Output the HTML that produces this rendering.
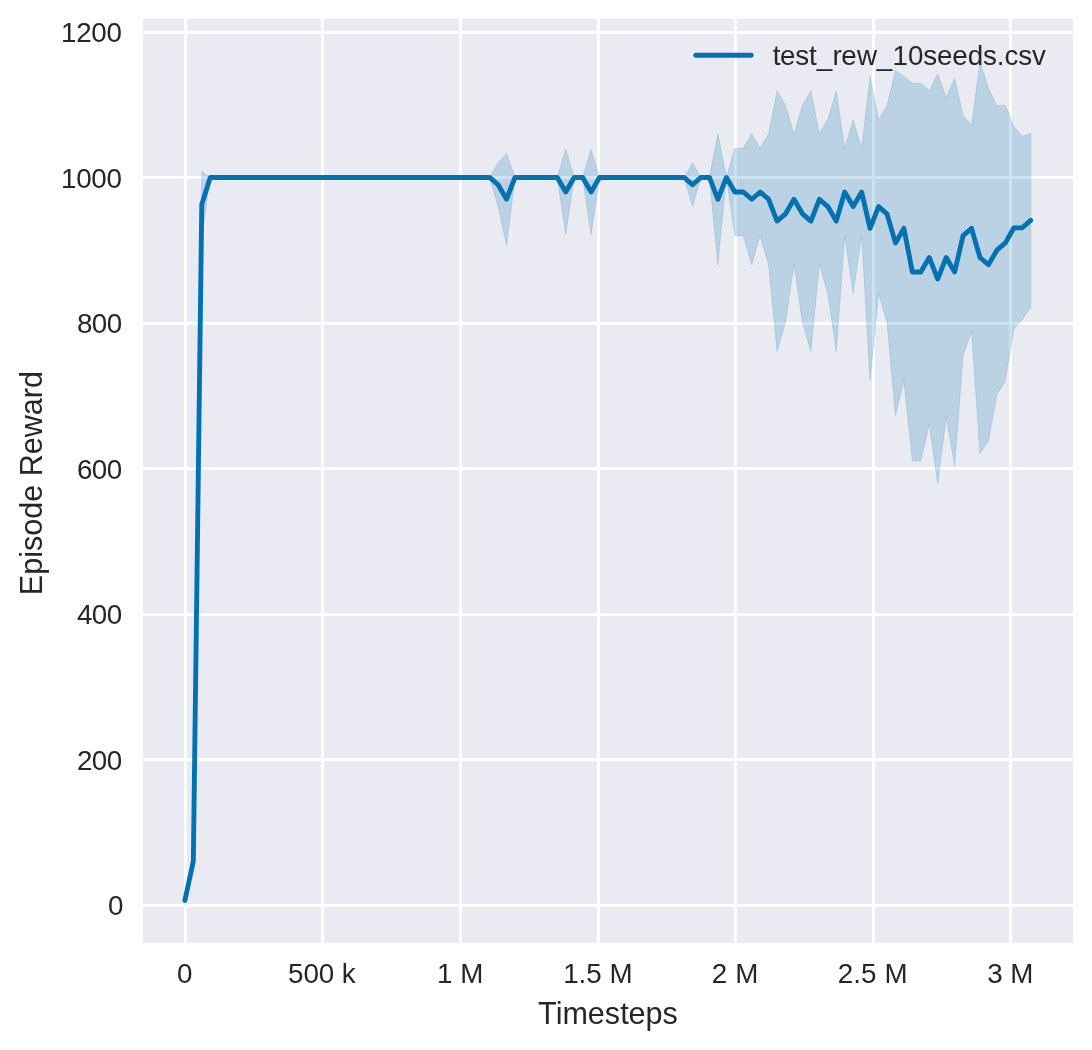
<!DOCTYPE html>
<html><head><meta charset="utf-8"><title>Episode Reward</title>
<style>html,body{margin:0;padding:0;background:#fff;overflow:hidden}svg{display:block;will-change:transform}text{font-family:"Liberation Sans",sans-serif;fill:#262626}</style></head><body>
<svg width="1092" height="1050" viewBox="0 0 1092 1050">
<rect x="0" y="0" width="1092" height="1050" fill="#ffffff"/>
<rect x="143.00" y="19.00" width="930.00" height="924.00" fill="#eaeaf2"/>
<g stroke="#ffffff" stroke-width="2.78" stroke-linecap="butt">
<line x1="185.50" y1="19.00" x2="185.50" y2="943.00"/>
<line x1="322.50" y1="19.00" x2="322.50" y2="943.00"/>
<line x1="460.50" y1="19.00" x2="460.50" y2="943.00"/>
<line x1="598.50" y1="19.00" x2="598.50" y2="943.00"/>
<line x1="735.50" y1="19.00" x2="735.50" y2="943.00"/>
<line x1="873.50" y1="19.00" x2="873.50" y2="943.00"/>
<line x1="1010.50" y1="19.00" x2="1010.50" y2="943.00"/>
<line x1="143.00" y1="905.50" x2="1073.00" y2="905.50"/>
<line x1="143.00" y1="759.50" x2="1073.00" y2="759.50"/>
<line x1="143.00" y1="614.50" x2="1073.00" y2="614.50"/>
<line x1="143.00" y1="468.50" x2="1073.00" y2="468.50"/>
<line x1="143.00" y1="323.50" x2="1073.00" y2="323.50"/>
<line x1="143.00" y1="177.50" x2="1073.00" y2="177.50"/>
<line x1="143.00" y1="32.50" x2="1073.00" y2="32.50"/>
</g>
<polygon points="184.87,899.86 193.32,855.48 201.78,171.63 210.23,177.45 219.09,177.45 227.54,177.45 236.00,177.45 244.45,177.45 252.91,177.45 261.36,177.45 269.81,177.45 278.27,177.45 286.72,177.45 295.18,177.45 303.63,177.45 312.09,177.45 320.54,177.45 329.00,177.45 337.45,177.45 345.91,177.45 354.36,177.45 362.81,177.45 371.27,177.45 379.72,177.45 388.18,177.45 396.63,177.45 405.09,177.45 413.54,177.45 422.00,177.45 430.45,177.45 438.90,177.45 447.36,177.45 455.81,177.45 464.27,177.45 472.72,177.45 481.18,177.45 489.63,177.45 498.09,162.90 506.54,153.44 515.00,177.45 523.45,177.45 531.90,177.45 540.36,177.45 548.81,177.45 557.27,177.45 565.72,149.44 574.18,177.45 582.63,177.45 591.09,149.44 599.54,177.45 608.00,177.45 616.45,177.45 624.90,177.45 633.36,177.45 641.81,177.45 650.27,177.45 658.72,177.45 667.18,177.45 675.63,177.45 684.09,177.45 692.54,162.90 700.99,177.45 709.45,177.45 717.90,133.80 726.36,177.45 734.81,148.35 743.27,148.35 751.72,133.80 760.18,148.35 768.63,133.80 777.08,90.95 785.54,105.50 793.99,134.24 802.45,105.50 810.90,90.95 819.36,134.24 827.81,119.69 836.27,90.95 844.72,148.35 853.18,119.69 861.63,148.35 870.08,76.40 878.54,119.69 886.99,105.50 895.45,70.58 903.90,76.40 912.36,83.31 920.81,83.31 929.27,90.59 937.72,74.07 946.17,97.86 954.63,78.22 963.08,115.39 971.54,125.51 979.99,61.49 988.45,88.40 996.90,105.86 1005.36,105.14 1013.81,126.52 1022.27,136.20 1030.72,133.36 1030.72,307.38 1022.27,319.39 1013.81,329.35 1005.36,380.71 996.90,394.54 988.45,441.10 979.99,453.46 971.54,331.24 963.08,355.91 954.63,465.83 946.17,417.09 937.72,484.09 929.27,424.36 920.81,460.74 912.36,460.74 903.90,380.35 895.45,415.27 886.99,322.15 878.54,293.41 870.08,380.35 861.63,235.65 853.18,293.41 844.72,235.65 836.27,351.25 827.81,293.41 819.36,264.31 810.90,351.25 802.45,322.15 793.99,264.31 785.54,322.15 777.08,351.25 768.63,264.75 760.18,235.65 751.72,264.75 743.27,235.65 734.81,235.65 726.36,177.45 717.90,264.75 709.45,177.45 700.99,177.45 692.54,206.55 684.09,177.45 675.63,177.45 667.18,177.45 658.72,177.45 650.27,177.45 641.81,177.45 633.36,177.45 624.90,177.45 616.45,177.45 608.00,177.45 599.54,177.45 591.09,234.56 582.63,177.45 574.18,177.45 565.72,234.56 557.27,177.45 548.81,177.45 540.36,177.45 531.90,177.45 523.45,177.45 515.00,177.45 506.54,245.11 498.09,206.55 489.63,177.45 481.18,177.45 472.72,177.45 464.27,177.45 455.81,177.45 447.36,177.45 438.90,177.45 430.45,177.45 422.00,177.45 413.54,177.45 405.09,177.45 396.63,177.45 388.18,177.45 379.72,177.45 371.27,177.45 362.81,177.45 354.36,177.45 345.91,177.45 337.45,177.45 329.00,177.45 320.54,177.45 312.09,177.45 303.63,177.45 295.18,177.45 286.72,177.45 278.27,177.45 269.81,177.45 261.36,177.45 252.91,177.45 244.45,177.45 236.00,177.45 227.54,177.45 219.09,177.45 210.23,177.45 201.78,237.11 193.32,867.12 184.87,901.02" fill="#0072b2" fill-opacity="0.2" stroke="#0072b2" stroke-opacity="0.2" stroke-width="0.83" stroke-linejoin="miter"/>
<polyline points="184.87,900.44 193.32,861.30 201.78,204.37 210.23,177.45 219.09,177.45 227.54,177.45 236.00,177.45 244.45,177.45 252.91,177.45 261.36,177.45 269.81,177.45 278.27,177.45 286.72,177.45 295.18,177.45 303.63,177.45 312.09,177.45 320.54,177.45 329.00,177.45 337.45,177.45 345.91,177.45 354.36,177.45 362.81,177.45 371.27,177.45 379.72,177.45 388.18,177.45 396.63,177.45 405.09,177.45 413.54,177.45 422.00,177.45 430.45,177.45 438.90,177.45 447.36,177.45 455.81,177.45 464.27,177.45 472.72,177.45 481.18,177.45 489.63,177.45 498.09,184.73 506.54,199.27 515.00,177.45 523.45,177.45 531.90,177.45 540.36,177.45 548.81,177.45 557.27,177.45 565.72,192.00 574.18,177.45 582.63,177.45 591.09,192.00 599.54,177.45 608.00,177.45 616.45,177.45 624.90,177.45 633.36,177.45 641.81,177.45 650.27,177.45 658.72,177.45 667.18,177.45 675.63,177.45 684.09,177.45 692.54,184.73 700.99,177.45 709.45,177.45 717.90,199.27 726.36,177.45 734.81,192.00 743.27,192.00 751.72,199.27 760.18,192.00 768.63,199.27 777.08,221.10 785.54,213.83 793.99,199.27 802.45,213.83 810.90,221.10 819.36,199.27 827.81,206.55 836.27,221.10 844.72,192.00 853.18,206.55 861.63,192.00 870.08,228.38 878.54,206.55 886.99,213.83 895.45,242.93 903.90,228.38 912.36,272.02 920.81,272.02 929.27,257.48 937.72,279.08 946.17,257.48 954.63,272.02 963.08,235.65 971.54,228.38 979.99,257.48 988.45,264.75 996.90,250.20 1005.36,242.93 1013.81,227.94 1022.27,227.79 1030.72,220.37" fill="none" stroke="#0072b2" stroke-width="4.86" stroke-linecap="round" stroke-linejoin="round"/>
<g font-size="27.78">
<text x="177.12" y="983.00">0</text>
<text x="288.04 303.42 318.79 334.17 341.82" y="983.00">500 k</text>
<text x="437.08 452.50 460.19" y="983.00">1 M</text>
<text x="563.13 578.56 586.26 601.69 609.39" y="983.00">1.5 M</text>
<text x="711.85 727.39 735.19" y="983.00">2 M</text>
<text x="837.85 853.35 861.12 876.62 884.39" y="983.00">2.5 M</text>
<text x="987.19 1002.56 1010.19" y="983.00">3 M</text>
<text x="108.06" y="915.00">0</text>
<text x="77.04 91.86 106.69" y="770.00">200</text>
<text x="77.04 91.86 106.69" y="624.00">400</text>
<text x="77.04 91.86 106.69" y="479.00">600</text>
<text x="77.04 91.86 106.69" y="333.00">800</text>
<text x="61.03 76.20 91.37 106.54" y="188.00">1000</text>
<text x="61.03 76.20 91.37 106.54" y="42.00">1200</text>
<text x="772.86 779.95 795.28 809.05 816.65 832.47 841.30 856.88 876.87 892.61 907.94 923.27 937.04 952.37 967.71 983.04 996.81 1004.41 1018.18 1031.95" y="65.00">test_rew_10seeds.csv</text>
</g>
<line x1="695.7" y1="55.3" x2="751.2" y2="55.3" stroke="#0072b2" stroke-width="4.86" stroke-linecap="round"/>
<text x="608" y="1023.6" text-anchor="middle" font-size="30.56">Timesteps</text>
<text transform="translate(41.9,483.15) rotate(-90)" text-anchor="middle" font-size="30.56">Episode Reward</text>
</svg></body></html>
